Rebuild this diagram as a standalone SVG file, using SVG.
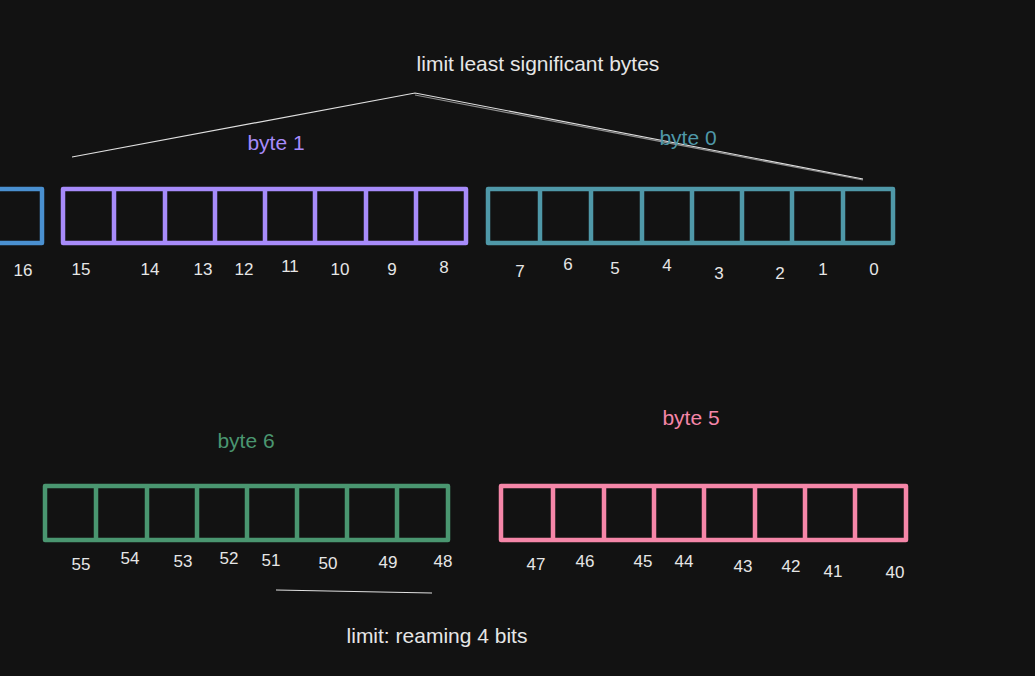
<svg xmlns="http://www.w3.org/2000/svg" width="1035" height="676" viewBox="0 0 1035 676">
<style>
.box{fill:none;stroke-width:4.5;stroke-linejoin:round}
.t{font-family:"Liberation Sans",Arial,sans-serif;font-size:21px;text-anchor:middle;fill:#e6e6e6}
.n{font-family:"Liberation Sans",Arial,sans-serif;font-size:17px;text-anchor:middle;fill:#e6e6e6}
.ln{fill:none;stroke:#e0e0e0;stroke-width:1.2}
</style>
<rect width="1035" height="676" fill="#121212"/>
<g id="connectors">
<polyline class="ln" points="72,157 415,93 863,179"/>
<polyline class="ln" points="415,95 863,180" opacity="0.6"/>
<line class="ln" x1="276" y1="590" x2="432" y2="593"/>
</g>
<g id="byte2-partial">
<rect class="box" x="-20" y="189" width="62" height="54" stroke="#4a90d0"/>
<text class="n" x="23" y="276">16</text>
</g>
<g id="byte1" stroke="#a78bfa">
<rect class="box" x="63" y="189" width="403" height="54"/>
<path class="box" d="M114 189V243M165 189V243M215 189V243M265 189V243M315 189V243M366 189V243M416 189V243"/>
<text class="t" x="276" y="150" stroke="none" style="fill:#a78bfa">byte 1</text>
<g stroke="none">
<text class="n" x="81" y="275">15</text>
<text class="n" x="150" y="275">14</text>
<text class="n" x="203" y="275">13</text>
<text class="n" x="244" y="275">12</text>
<text class="n" x="290" y="272">11</text>
<text class="n" x="340" y="275">10</text>
<text class="n" x="392" y="275">9</text>
<text class="n" x="444" y="273">8</text>
</g>
</g>
<g id="byte0" stroke="#4f98a8">
<rect class="box" x="488" y="189" width="405" height="54"/>
<path class="box" d="M540 189V243M591 189V243M642 189V243M692 189V243M742 189V243M792 189V243M843 189V243"/>
<text class="t" x="688" y="145" stroke="none" style="fill:#4f98a8">byte 0</text>
<g stroke="none">
<text class="n" x="520" y="277">7</text>
<text class="n" x="568" y="270">6</text>
<text class="n" x="615" y="274">5</text>
<text class="n" x="667" y="271">4</text>
<text class="n" x="719" y="279">3</text>
<text class="n" x="780" y="279">2</text>
<text class="n" x="823" y="275">1</text>
<text class="n" x="874" y="275">0</text>
</g>
</g>
<g id="byte6" stroke="#4a9670">
<rect class="box" x="45" y="486" width="403" height="54"/>
<path class="box" d="M96 486V540M147 486V540M197 486V540M247 486V540M297 486V540M347 486V540M397 486V540"/>
<text class="t" x="246" y="448" stroke="none" style="fill:#4a9670">byte 6</text>
<g stroke="none">
<text class="n" x="81" y="570">55</text>
<text class="n" x="130" y="564">54</text>
<text class="n" x="183" y="567">53</text>
<text class="n" x="229" y="564">52</text>
<text class="n" x="271" y="566">51</text>
<text class="n" x="328" y="569">50</text>
<text class="n" x="388" y="568">49</text>
<text class="n" x="443" y="567">48</text>
</g>
</g>
<g id="byte5" stroke="#f586a8">
<rect class="box" x="501" y="486" width="405" height="54"/>
<path class="box" d="M553 486V540M604 486V540M654 486V540M704 486V540M755 486V540M805 486V540M855 486V540"/>
<text class="t" x="691" y="425" stroke="none" style="fill:#f586a8">byte 5</text>
<g stroke="none">
<text class="n" x="536" y="570">47</text>
<text class="n" x="585" y="567">46</text>
<text class="n" x="643" y="567">45</text>
<text class="n" x="684" y="567">44</text>
<text class="n" x="743" y="572">43</text>
<text class="n" x="791" y="572">42</text>
<text class="n" x="833" y="577">41</text>
<text class="n" x="895" y="578">40</text>
</g>
</g>
<g id="title">
<text class="t" x="538" y="71">limit least significant bytes</text>
</g>
<g id="note">
<text class="t" x="437" y="643">limit: reaming 4 bits</text>
</g>
</svg>
